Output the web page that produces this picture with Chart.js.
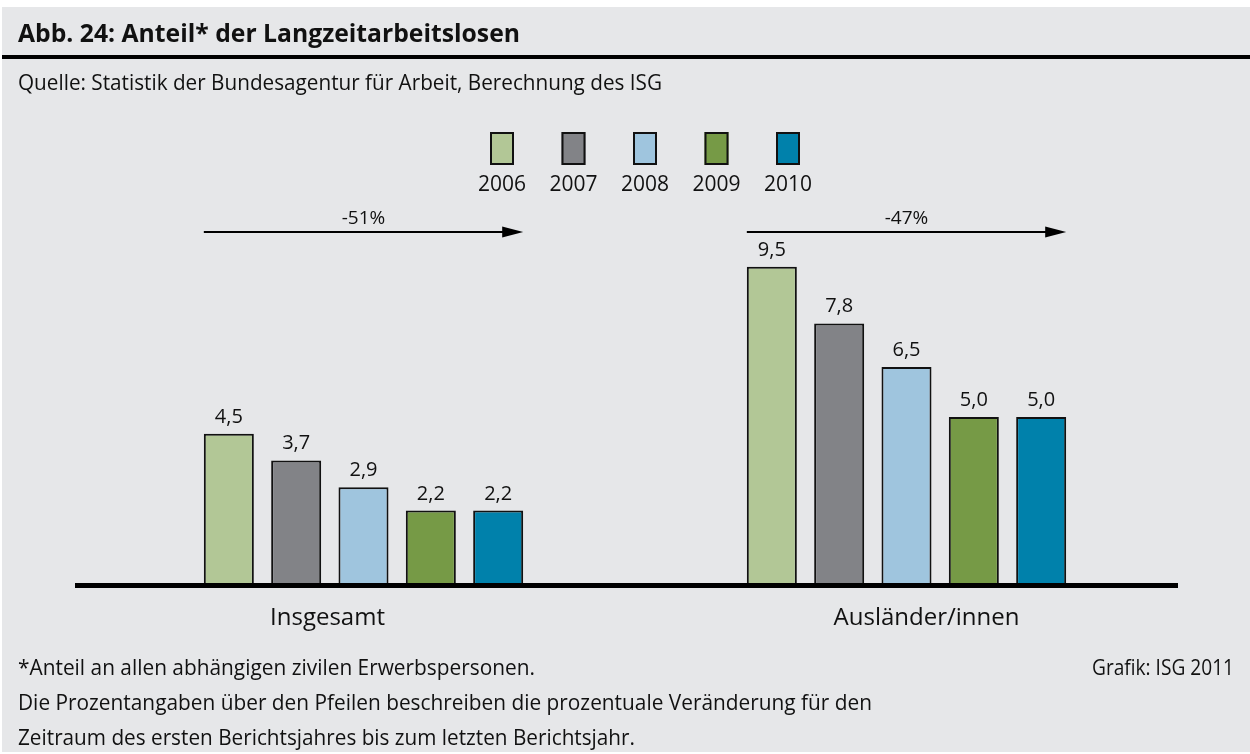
<!DOCTYPE html>
<html>
<head>
<meta charset="utf-8">
<script src="https://cdn.jsdelivr.net/npm/chart.js@4/dist/chart.umd.min.js"></script>
<style>
html,body{margin:0;padding:0;background:#ffffff;}
#wrap{position:relative;width:1250px;height:754px;}
canvas{display:block;}
</style>
</head>
<body>
<div id="wrap"><canvas id="c" width="1250" height="754"></canvas></div>
<script>
// ---- data ----
const categories = ['Insgesamt', 'Ausländer/innen'];
const years = ['2006', '2007', '2008', '2009', '2010'];
const v2006 = [4.5, 9.5];
const v2007 = [3.7, 7.8];
const v2008 = [2.9, 6.5];
const v2009 = [2.2, 5.0];
const v2010 = [2.2, 5.0];
const changeLabels = ['-51%', '-47%'];
const titleText = 'Abb. 24: Anteil* der Langzeitarbeitslosen';
const sourceText = 'Quelle: Statistik der Bundesagentur für Arbeit, Berechnung des ISG';
const footLines = [
  '*Anteil an allen abhängigen zivilen Erwerbspersonen.',
  'Die Prozentangaben über den Pfeilen beschreiben die prozentuale Veränderung für den',
  'Zeitraum des ersten Berichtsjahres bis zum letzten Berichtsjahr.'
];
const creditText = 'Grafik: ISG 2011';

// ---- styles ----
const colors = ['#b2c796', '#828387', '#9fc5de', '#769a46', '#0081ab'];
const BG = '#e6e7e9';
const INK = '#111111';
const FONT = '"Open Sans", "Noto Sans", sans-serif';

const seriesValues = [v2006, v2007, v2008, v2009, v2010];

function fitText(ctx, text, x, y, width, font, align) {
  ctx.save();
  ctx.font = font;
  const w = ctx.measureText(text).width;
  const s = width / w;
  let x0 = x;
  if (align === 'right') x0 = x - width;
  ctx.translate(x0, y);
  ctx.scale(s, 1);
  ctx.textAlign = 'left';
  ctx.textBaseline = 'alphabetic';
  ctx.fillText(text, 0, 0);
  ctx.restore();
}

function fmt(v) {
  return v.toFixed(1).replace('.', ',');
}

const decor = {
  id: 'decor',
  beforeDraw(chart) {
    const ctx = chart.ctx;
    ctx.save();
    ctx.fillStyle = '#ffffff';
    ctx.fillRect(0, 0, chart.width, chart.height);
    ctx.fillStyle = BG;
    ctx.fillRect(2, 7, 1248, 745);
    // title
    ctx.fillStyle = INK;
    fitText(ctx, titleText, 18, 42, 502, 'bold 25px ' + FONT);
    ctx.fillStyle = '#000';
    ctx.fillRect(2, 55, 1248, 4);
    // source
    ctx.fillStyle = INK;
    fitText(ctx, sourceText, 18, 90, 644, '22px ' + FONT);
    // footer
    const fy = [675, 710, 745];
    const fw = [517, 854, 617];
    footLines.forEach((t, i) => fitText(ctx, t, 18, fy[i], fw[i], '21px ' + FONT));
    fitText(ctx, creditText, 1234, 675, 142, '21px ' + FONT, 'right');

    // legend
    const n = chart.data.datasets.length;
    const step = 71.5, cx0 = 645 - step * (n - 1) / 2;
    chart.data.datasets.forEach((ds, i) => {
      const cx = cx0 + i * step;
      ctx.fillStyle = ds.backgroundColor;
      ctx.fillRect(cx - 12, 132, 24, 33);
      ctx.strokeStyle = INK;
      ctx.lineWidth = 2;
      ctx.strokeRect(cx - 11, 133, 22, 31);
      ctx.fillStyle = INK;
      ctx.font = '21px ' + FONT;
      ctx.textAlign = 'center';
      ctx.textBaseline = 'alphabetic';
      ctx.fillText(ds.label, cx, 191);
    });
    ctx.restore();
  },
  afterDatasetsDraw(chart) {
    const ctx = chart.ctx;
    const y0 = chart.scales.y.getPixelForValue(0);
    ctx.save();
    // baseline
    ctx.fillStyle = '#000';
    ctx.fillRect(75, y0 - 1, 1178 - 75, 5);
    // value labels
    ctx.fillStyle = INK;
    ctx.font = '20px ' + FONT;
    ctx.textAlign = 'center';
    ctx.textBaseline = 'alphabetic';
    chart.data.datasets.forEach((ds, di) => {
      const meta = chart.getDatasetMeta(di);
      meta.data.forEach((bar, i) => {
        ctx.fillText(fmt(ds.data[i]), bar.x, bar.y - 11);
      });
    });
    // arrows + change labels
    const first = chart.getDatasetMeta(0).data;
    const last = chart.getDatasetMeta(chart.data.datasets.length - 1).data;
    categories.forEach((c, i) => {
      const xs = first[i].x - first[i].width / 2;
      const xe = last[i].x + last[i].width / 2;
      const ay = 232;
      ctx.strokeStyle = '#000';
      ctx.lineWidth = 2;
      ctx.beginPath();
      ctx.moveTo(xs, ay);
      ctx.lineTo(xe - 18, ay);
      ctx.stroke();
      ctx.fillStyle = '#000';
      ctx.beginPath();
      ctx.moveTo(xe, ay);
      ctx.lineTo(xe - 21, ay - 5.5);
      ctx.lineTo(xe - 21, ay + 5.5);
      ctx.closePath();
      ctx.fill();
      ctx.fillStyle = INK;
      ctx.font = '19px ' + FONT;
      ctx.fillText(changeLabels[i], (xs + xe) / 2, 224);
    });
    // category labels
    ctx.font = '24px ' + FONT;
    categories.forEach((c, i) => {
      const cx = chart.scales.x.getPixelForValue(i);
      const off = i === 0 ? -36 : 20;
      ctx.fillText(c, cx + off, 625);
    });
    ctx.restore();
  }
};

new Chart(document.getElementById('c'), {
  type: 'bar',
  data: {
    labels: categories,
    datasets: years.map((y, i) => ({
      label: y,
      data: seriesValues[i],
      backgroundColor: colors[i],
      borderColor: INK,
      borderWidth: 2,
      categoryPercentage: 0.62,
      barPercentage: 0.743
    }))
  },
  options: {
    responsive: false,
    animation: false,
    devicePixelRatio: 1,
    layout: { padding: { left: 92, right: 72, top: 250, bottom: 170 } },
    scales: {
      x: { display: false },
      y: { display: false, min: 0, max: 10 }
    },
    plugins: { legend: { display: false }, tooltip: { enabled: false } }
  },
  plugins: [decor]
});
</script>
</body>
</html>
